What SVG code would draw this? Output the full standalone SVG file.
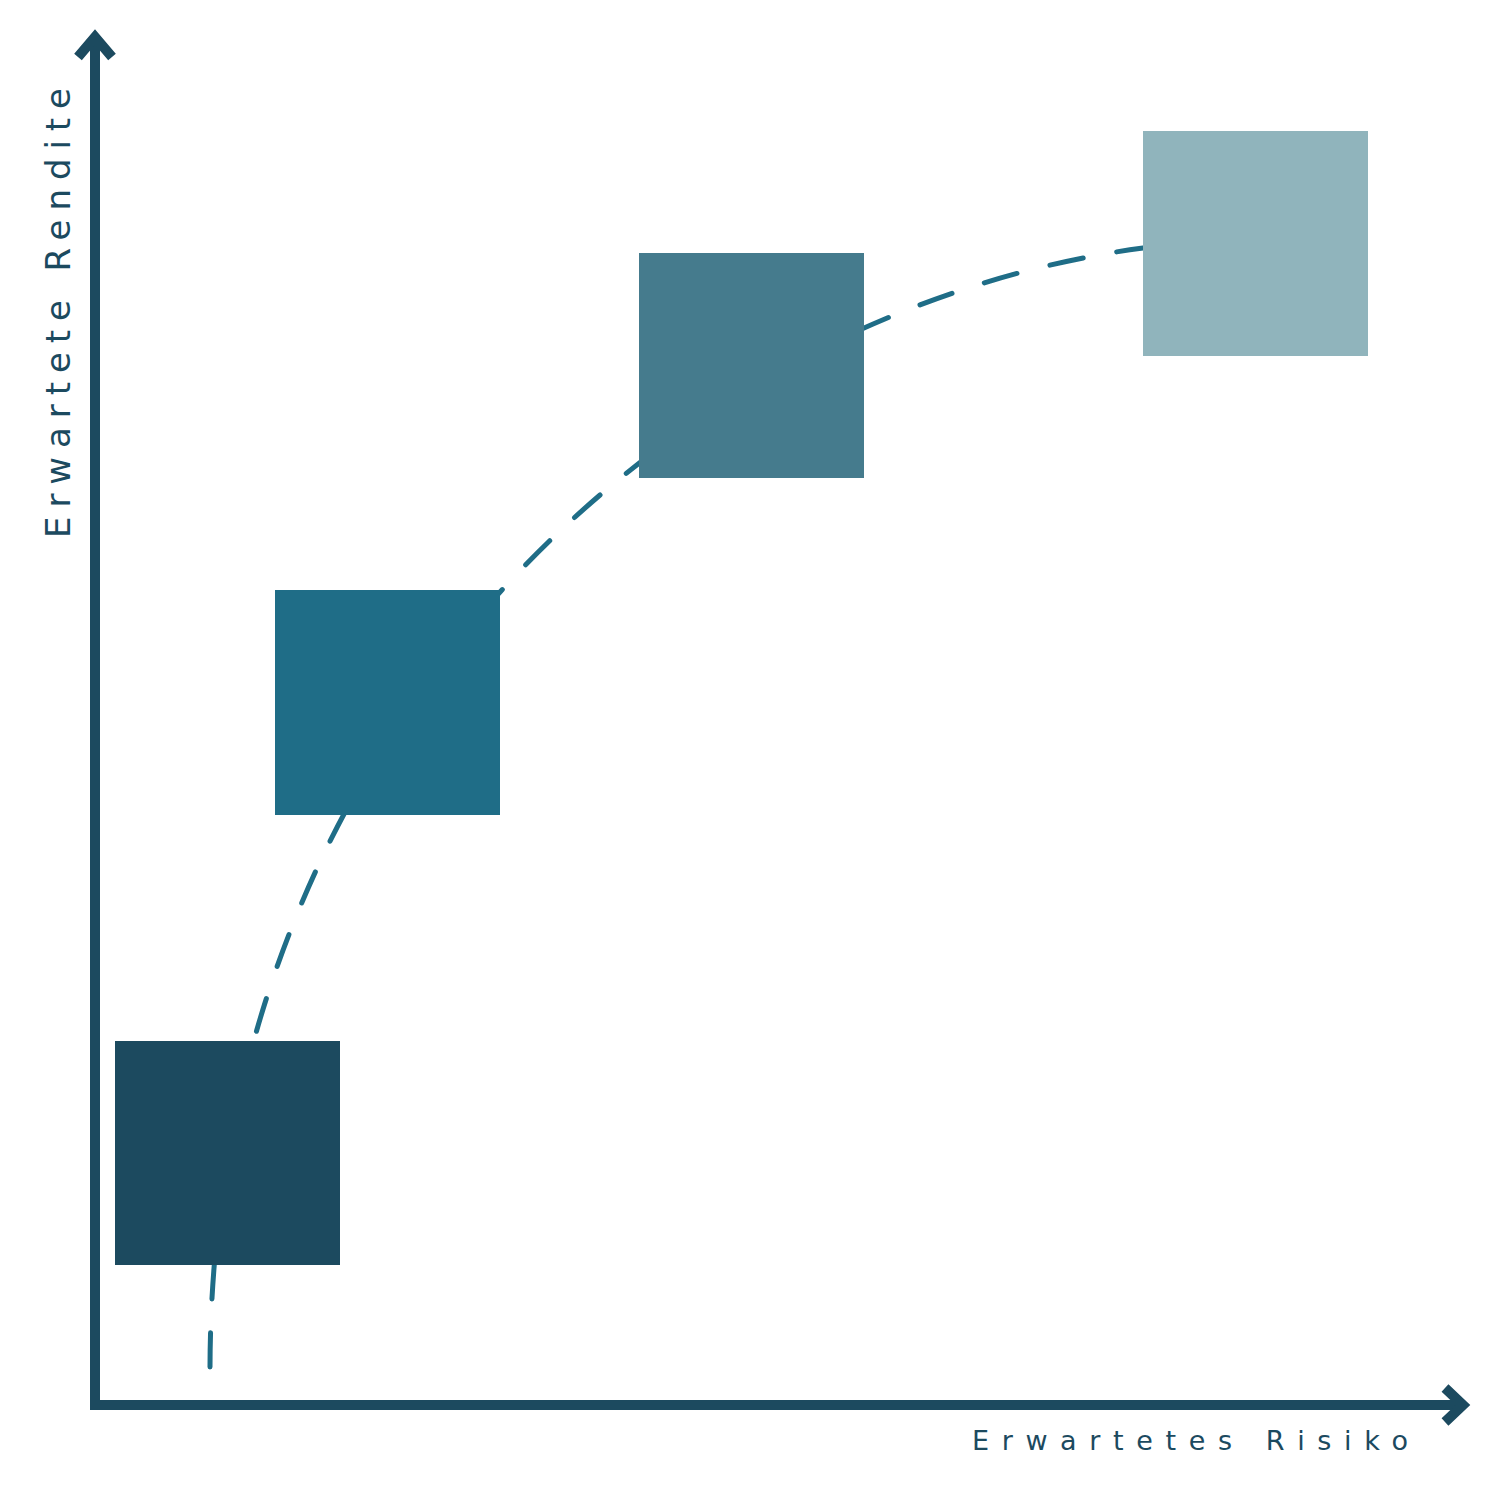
<svg xmlns="http://www.w3.org/2000/svg" width="1500" height="1500" viewBox="0 0 1500 1500">
<style>
.axis{fill:none;stroke:#1c4a5f;stroke-width:10}
.lbl{font-family:"DejaVu Sans","Liberation Sans",Arial,sans-serif;fill:#1c4a5f}
.curve{fill:none;stroke:#1f6d87;stroke-width:5;stroke-linecap:round;stroke-dasharray:34 34}
</style>
<rect width="1500" height="1500" fill="#ffffff"/>
<g id="connectors">
<path class="curve" d="M210,1367 C212,720 680,310 1143,248"/>
</g>
<g id="axes">
<polyline class="axis" points="95,1405 95,42" stroke-linejoin="miter"/>
<polyline class="axis" points="78,57 95,37 112,57" stroke-linejoin="miter"/>
<polyline class="axis" points="90,1405 1460,1405"/>
<polyline class="axis" points="1445,1388 1463,1405 1445,1422" stroke-linejoin="miter"/>
</g>
<g id="node1"><rect x="115" y="1041" width="225" height="224" fill="#1c4a5f"/></g>
<g id="node2"><rect x="275" y="590" width="225" height="225" fill="#1f6d87"/></g>
<g id="node3"><rect x="639" y="253" width="225" height="225" fill="#457b8d"/></g>
<g id="node4"><rect x="1143" y="131" width="225" height="225" fill="#90b4bc"/></g>
<g id="label-x"><text class="lbl" x="972" y="1450" font-size="27" textLength="436" lengthAdjust="spacing">Erwartetes Risiko</text></g>
<g id="label-y"><text class="lbl" transform="translate(70,538) rotate(-90)" x="0" y="0" font-size="34" textLength="450" lengthAdjust="spacing">Erwartete Rendite</text></g>
</svg>
